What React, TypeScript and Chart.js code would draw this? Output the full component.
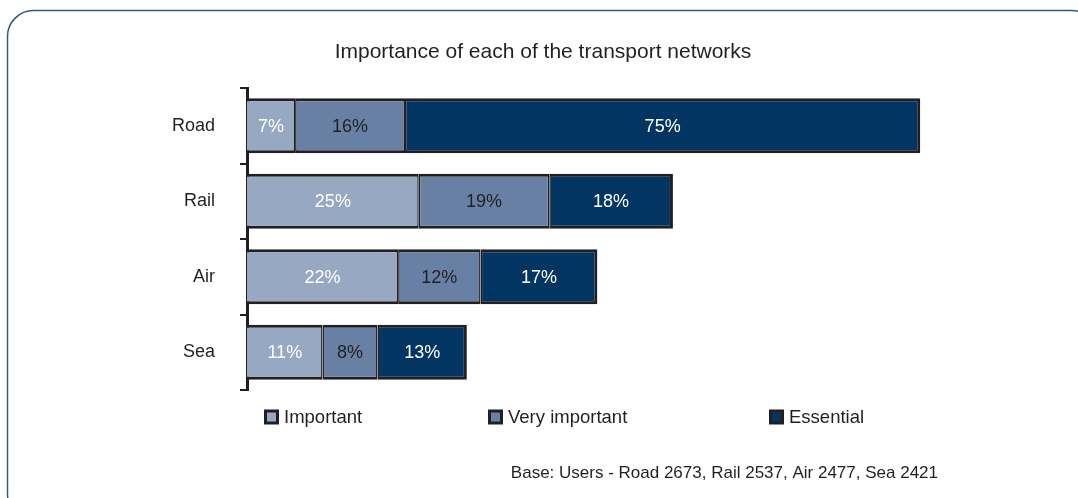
import React, { useEffect, useRef } from "react";
import { Chart, registerables } from "chart.js";

Chart.register(...registerables);

const categories = ["Road", "Rail", "Air", "Sea"];
const important = [7, 25, 22, 11];
const veryImportant = [16, 19, 12, 8];
const essential = [75, 18, 17, 13];
const seriesNames = ["Important", "Very important", "Essential"];
const title = "Importance of each of the transport networks";
const footnote = "Base: Users - Road 2673, Rail 2537, Air 2477, Sea 2421";

const COLORS = ["#97a8c3", "#6780a4", "#033562"];
const LABEL_COLORS = ["#ffffff", "#231f20", "#ffffff"];
const DARK = "#231f20";
const FONT = "'Liberation Sans', Arial, Helvetica, sans-serif";

const decorPlugin = {
  id: "decor",
  beforeDraw(chart: any) {
    const ctx = chart.ctx;
    ctx.save();
    // rounded frame
    ctx.strokeStyle = "#2f5b82";
    ctx.lineWidth = 1.5;
    const x = 7.5, y = 10.5, w = 1090, h = 510, r = 26;
    ctx.beginPath();
    ctx.moveTo(x + r, y);
    ctx.lineTo(x + w - r, y);
    ctx.arcTo(x + w, y, x + w, y + r, r);
    ctx.lineTo(x + w, y + h - r);
    ctx.arcTo(x + w, y + h, x + w - r, y + h, r);
    ctx.lineTo(x + r, y + h);
    ctx.arcTo(x, y + h, x, y + h - r, r);
    ctx.lineTo(x, y + r);
    ctx.arcTo(x, y, x + r, y, r);
    ctx.closePath();
    ctx.stroke();

    // title
    ctx.fillStyle = DARK;
    ctx.font = `21px ${FONT}`;
    ctx.textAlign = "center";
    ctx.textBaseline = "middle";
    ctx.fillText(title, 543, 52);
    ctx.restore();
  },
  afterDatasetsDraw(chart: any) {
    const ctx = chart.ctx;
    ctx.save();
    ctx.font = `18px ${FONT}`;
    ctx.textAlign = "center";
    ctx.textBaseline = "middle";
    chart.data.datasets.forEach((ds: any, di: number) => {
      const meta = chart.getDatasetMeta(di);
      meta.data.forEach((el: any, i: number) => {
        const cx = (el.x + el.base) / 2;
        ctx.fillStyle = LABEL_COLORS[di];
        ctx.fillText(`${ds.data[i]}%`, cx, el.y + 1);
      });
    });

    // legend
    const left = chart.chartArea.left;
    const offsets = [17, 241, 522];
    const ly = 417;
    seriesNames.forEach((name, i) => {
      const bx = left + offsets[i];
      ctx.fillStyle = DARK;
      ctx.fillRect(bx, ly - 7.5, 15, 15);
      ctx.fillStyle = COLORS[i];
      ctx.fillRect(bx + 3, ly - 4.5, 9, 9);
      ctx.fillStyle = DARK;
      ctx.textAlign = "left";
      ctx.font = `18.5px ${FONT}`;
      ctx.fillText(name, bx + 20, ly + 1);
    });

    // footnote
    ctx.font = `17px ${FONT}`;
    ctx.textAlign = "right";
    ctx.fillStyle = DARK;
    ctx.fillText(footnote, 938, 473);
    ctx.restore();
  },
};

export default function App() {
  const ref = useRef<HTMLCanvasElement>(null);

  useEffect(() => {
    if (!ref.current) return;
    const mk = (label: string, data: number[], i: number) => ({
      label,
      data,
      backgroundColor: COLORS[i],
      borderColor: DARK,
      borderWidth:
        i === 0
          ? { top: 3, bottom: 3, left: 0, right: 1.5 }
          : i === 1
          ? { top: 3, bottom: 3, left: 1.5, right: 1.5 }
          : { top: 3, bottom: 3, left: 1.5, right: 3 },
      borderSkipped: false,
      barPercentage: 0.73,
      categoryPercentage: 1,
    });
    const chart = new Chart(ref.current, {
      type: "bar",
      data: {
        labels: categories,
        datasets: [
          mk(seriesNames[0], important, 0),
          mk(seriesNames[1], veryImportant, 1),
          mk(seriesNames[2], essential, 2),
        ],
      },
      options: {
        indexAxis: "y",
        animation: false,
        responsive: false,
        devicePixelRatio: 1,
        layout: { padding: { top: 88, bottom: 108, left: 0, right: 144 } },
        plugins: {
          legend: { display: false },
          title: { display: false },
          tooltip: { enabled: false },
        },
        scales: {
          x: {
            stacked: true,
            display: false,
            min: 0,
            max: 100,
          },
          y: {
            stacked: true,
            afterFit: (s: any) => {
              s.width = 247;
            },
            border: { display: true, color: DARK, width: 3 },
            grid: {
              offset: true,
              drawOnChartArea: false,
              color: DARK,
              lineWidth: 2,
              tickLength: 7,
            },
            ticks: {
              color: DARK,
              padding: 25,
              font: { family: FONT, size: 18 },
            },
          },
        },
      },
      plugins: [decorPlugin],
    });
    return () => chart.destroy();
  }, []);

  return (
    <div style={{ position: "fixed", left: 0, top: 0, width: 1078, height: 498, background: "#fff" }}>
      <canvas ref={ref} width={1078} height={498} style={{ width: 1078, height: 498, display: "block" }} />
    </div>
  );
}
